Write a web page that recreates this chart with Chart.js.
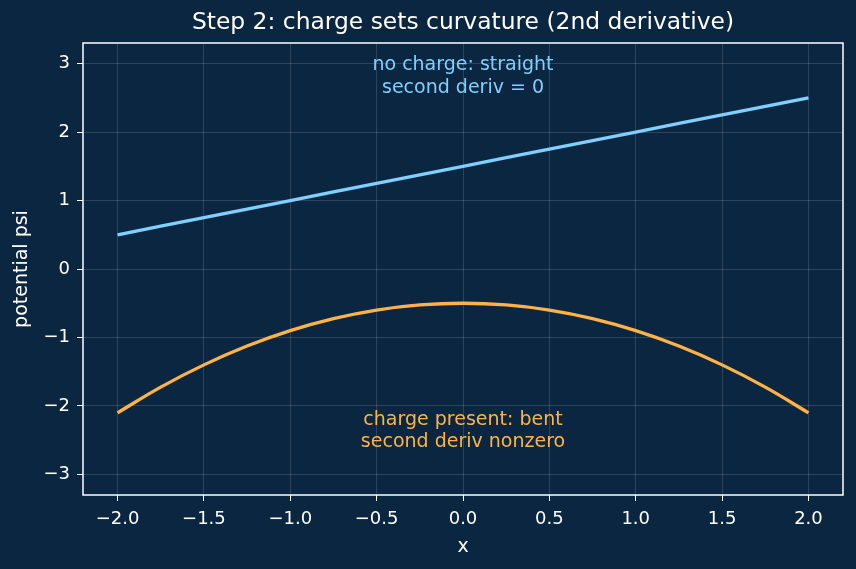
<!DOCTYPE html>
<html>
<head>
<meta charset="utf-8">
<script src="https://cdn.jsdelivr.net/npm/chart.js@4"></script>
<style>
  html, body { margin: 0; padding: 0; background: #0b2640; }
  #wrap { width: 856px; height: 569px; }
</style>
</head>
<body>
<div id="wrap"><canvas id="chart" width="856" height="569"></canvas></div>
<script>
// values
const xs = [-2.0, -1.75, -1.5, -1.25, -1.0, -0.75, -0.5, -0.25, 0.0, 0.25, 0.5, 0.75, 1.0, 1.25, 1.5, 1.75, 2.0];
const straight = [0.5, 0.625, 0.75, 0.875, 1.0, 1.125, 1.25, 1.375, 1.5, 1.625, 1.75, 1.875, 2.0, 2.125, 2.25, 2.375, 2.5];
const bent = [-2.1, -1.725, -1.4, -1.125, -0.9, -0.725, -0.6, -0.525, -0.5, -0.525, -0.6, -0.725, -0.9, -1.125, -1.4, -1.725, -2.1];
const title = "Step 2: charge sets curvature (2nd derivative)";
const notes = [
  { x: 0, y: 2.975, lines: ["no charge: straight", "second deriv = 0"], color: "#7fd0ff" },
  { x: 0, y: -2.2, lines: ["charge present: bent", "second deriv nonzero"], color: "#ffb347" }
];

const pts = (ys) => xs.map((x, i) => ({ x: x, y: ys[i] }));
const minus = (v, d) => (d == null ? String(v) : v.toFixed(d)).replace("-", "\u2212");
const font = "DejaVu Sans";

// frame, title over the plot area, and the two text notes
const frame = {
  id: "frame",
  afterDraw(chart) {
    const { ctx, chartArea: a, scales } = chart;
    ctx.save();
    ctx.strokeStyle = "#ffffff";
    ctx.lineWidth = 1.5;
    ctx.strokeRect(a.left, a.top, a.right - a.left, a.bottom - a.top);
    ctx.textAlign = "center";
    ctx.textBaseline = "middle";
    ctx.fillStyle = "#ffffff";
    ctx.font = "23.4px '" + font + "'";
    ctx.fillText(title, (a.left + a.right) / 2, 22.5);
    ctx.font = "19px '" + font + "'";
    notes.forEach(n => {
      ctx.fillStyle = n.color;
      const px = scales.x.getPixelForValue(n.x);
      const py = scales.y.getPixelForValue(n.y);
      n.lines.forEach((t, i) => ctx.fillText(t, px, py + i * 22.5));
    });
    ctx.restore();
  }
};

const bg = {
  id: "bg",
  beforeDraw(chart) {
    const ctx = chart.ctx;
    ctx.save();
    ctx.fillStyle = "#0b2640";
    ctx.fillRect(0, 0, chart.width, chart.height);
    ctx.restore();
  }
};

new Chart(document.getElementById("chart"), {
  type: "line",
  data: {
    datasets: [
      { data: pts(straight), borderColor: "#7fd0ff", borderWidth: 3.3, pointRadius: 0, tension: 0 },
      { data: pts(bent), borderColor: "#ffb347", borderWidth: 3.3, pointRadius: 0, tension: 0.4 }
    ]
  },
  options: {
    responsive: false,
    animation: false,
    layout: { padding: { right: 13, left: 0, top: 43, bottom: 0 } },
    plugins: {
      legend: { display: false },
      tooltip: { enabled: false },
      title: { display: false }
    },
    scales: {
      x: {
        type: "linear",
        min: -2.2, max: 2.2,
        afterFit(s) { s.height = 74; },
        ticks: {
          stepSize: 0.5, includeBounds: false, color: "#ffffff", padding: 8,
          font: { family: font, size: 18 },
          callback: v => minus(v, 1)
        },
        grid: { color: "rgba(255,255,255,0.14)", tickColor: "#ffffff", tickLength: 6, lineWidth: 1 },
        border: { display: false },
        title: { display: true, text: "x", color: "#ffffff", font: { family: font, size: 19 }, padding: { top: 0, bottom: 11 } }
      },
      y: {
        min: -3.3, max: 3.3,
        afterFit(s) { s.width = 83; },
        ticks: {
          stepSize: 1, includeBounds: false, color: "#ffffff", padding: 7,
          font: { family: font, size: 18 },
          callback: v => minus(v)
        },
        grid: { color: "rgba(255,255,255,0.14)", tickColor: "#ffffff", tickLength: 6, lineWidth: 1 },
        border: { display: false },
        title: { display: true, text: "potential psi", color: "#ffffff", font: { family: font, size: 19 }, padding: { top: 11, bottom: 0 } }
      }
    }
  },
  plugins: [bg, frame]
});
</script>
</body>
</html>
